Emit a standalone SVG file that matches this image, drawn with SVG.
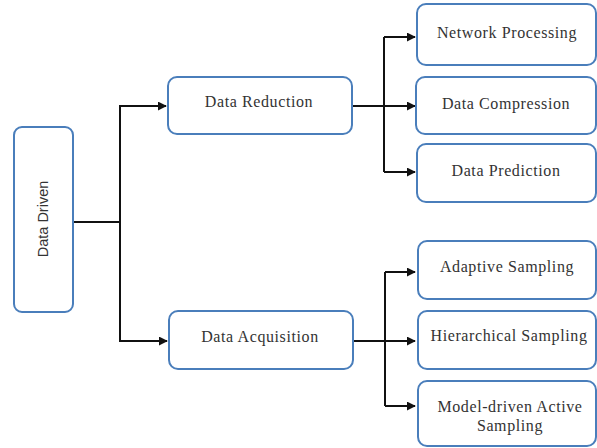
<svg xmlns="http://www.w3.org/2000/svg" width="597" height="448" viewBox="0 0 597 448">
<defs>
<style>
.box{fill:#ffffff;stroke:#4a7ebb;stroke-width:2}
.lbl{font-family:"Liberation Serif","Times New Roman",serif;font-size:16px;letter-spacing:0.6px;fill:#333;text-anchor:middle}
.side{font-family:"Liberation Sans",Arial,sans-serif;font-size:14.5px;fill:#333;text-anchor:middle}
.conn{fill:none;stroke:#111;stroke-width:2}
</style>
<marker id="arr" viewBox="0 0 10 10" refX="9" refY="5" markerWidth="4.5" markerHeight="4.5" orient="auto" markerUnits="strokeWidth">
<path d="M0,0 L10,5 L0,10 z" fill="#111"/>
</marker>
</defs>
<rect width="597" height="448" fill="#ffffff"/>
<g id="connectors">
<path class="conn" d="M73,222 H120 V106 H166" marker-end="url(#arr)"/>
<path class="conn" d="M120,222 V341 H167" marker-end="url(#arr)"/>
<path class="conn" d="M352,106 H384"/>
<path class="conn" d="M384,37 V172"/>
<path class="conn" d="M384,37 H415" marker-end="url(#arr)"/>
<path class="conn" d="M384,106 H415" marker-end="url(#arr)"/>
<path class="conn" d="M384,172 H415" marker-end="url(#arr)"/>
<path class="conn" d="M353,341 H385"/>
<path class="conn" d="M385,272 V406"/>
<path class="conn" d="M385,272 H415" marker-end="url(#arr)"/>
<path class="conn" d="M385,341 H415" marker-end="url(#arr)"/>
<path class="conn" d="M385,406 H415" marker-end="url(#arr)"/>
</g>
<g id="data-driven">
<rect class="box" x="14" y="127" width="59" height="185" rx="8"/>
<text class="side" transform="translate(48,219) rotate(-90)">Data Driven</text>
</g>
<g id="data-reduction">
<rect class="box" x="168" y="77" width="184" height="57" rx="9"/>
<text class="lbl" x="259" y="107">Data Reduction</text>
</g>
<g id="data-acquisition">
<rect class="box" x="169" y="311" width="184" height="58" rx="9"/>
<text class="lbl" x="260" y="342">Data Acquisition</text>
</g>
<g id="network-processing">
<rect class="box" x="417" y="4" width="179" height="61" rx="9"/>
<text class="lbl" x="507" y="38">Network Processing</text>
</g>
<g id="data-compression">
<rect class="box" x="416" y="77" width="180" height="57" rx="9"/>
<text class="lbl" x="506" y="109">Data Compression</text>
</g>
<g id="data-prediction">
<rect class="box" x="417" y="144" width="179" height="58" rx="9"/>
<text class="lbl" x="506" y="176">Data Prediction</text>
</g>
<g id="adaptive-sampling">
<rect class="box" x="418" y="241" width="178" height="58" rx="9"/>
<text class="lbl" x="507" y="272">Adaptive Sampling</text>
</g>
<g id="hierarchical-sampling">
<rect class="box" x="418" y="311" width="178" height="58" rx="9"/>
<text class="lbl" x="509" y="341">Hierarchical Sampling</text>
</g>
<g id="model-driven-active-sampling">
<rect class="box" x="418" y="381" width="178" height="65" rx="9"/>
<text class="lbl" x="510" y="412">Model-driven Active</text>
<text class="lbl" x="510" y="431">Sampling</text>
</g>
</svg>
